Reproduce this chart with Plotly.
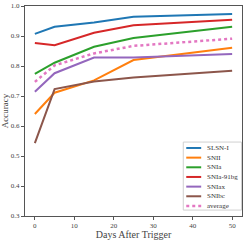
import plotly.graph_objects as go

days = [0, 5, 15, 25, 50]
series_names = ["SLSN-I", "SNII", "SNIa", "SNIa-91bg", "SNIax", "SNIbc", "average"]
slsn = [0.907, 0.931, 0.945, 0.964, 0.973]
snii = [0.640, 0.711, 0.752, 0.820, 0.861]
snia = [0.774, 0.811, 0.864, 0.893, 0.931]
snia91 = [0.877, 0.869, 0.911, 0.936, 0.954]
sniax = [0.714, 0.776, 0.828, 0.828, 0.840]
snibc = [0.543, 0.723, 0.748, 0.762, 0.784]
average = [0.747, 0.802, 0.842, 0.867, 0.891]

values = [slsn, snii, snia, snia91, sniax, snibc, average]
colors = ["#1f77b4", "#ff7f0e", "#2ca02c", "#d62728", "#9467bd", "#8c564b", "#e377c2"]
yticks = [0.3, 0.4, 0.5, 0.6, 0.7, 0.8, 0.9, 1.0]
xticks = [0, 10, 20, 30, 40, 50]

W, H = 245, 240
ML, MR, MT, MB = 25, 2, 5, 22
PW, PH = W - ML - MR, H - MT - MB

def px2paper(px, py):
    return (px - ML) / PW, (H - MB - py) / PH

font = "Liberation Serif"
fig = go.Figure()
for name, vals, c in zip(series_names, values, colors):
    dash = "dot" if name == "average" else "solid"
    fig.add_trace(go.Scatter(x=days, y=vals, mode="lines", name=name, showlegend=False,
                             hoverinfo="skip",
                             line=dict(color=c, width=2 if name != "average" else 2.5, dash=dash)))

# manual compact legend (matplotlib style)
shapes = []
annotations = []
bx0, by0 = px2paper(184, 212)
bx1, by1 = px2paper(242.5, 143)
shapes.append(dict(type="rect", xref="paper", yref="paper", x0=bx0, y0=by0, x1=bx1, y1=by1,
                   line=dict(color="#d0d0d0", width=1), fillcolor="rgba(255,255,255,0.85)", layer="above"))
for i, (name, c) in enumerate(zip(series_names, colors)):
    cy = 149 + i * 9.8
    lx0, ly = px2paper(187, cy)
    lx1, _ = px2paper(202, cy)
    shapes.append(dict(type="line", xref="paper", yref="paper", x0=lx0, x1=lx1, y0=ly, y1=ly,
                       line=dict(color=c, width=2 if name != "average" else 2.5,
                                 dash="dot" if name == "average" else "solid"), layer="above"))
    tx, _ = px2paper(206, cy)
    annotations.append(dict(xref="paper", yref="paper", x=tx, y=ly, text=name, showarrow=False,
                            xanchor="left", yanchor="middle",
                            font=dict(family=font, size=7, color="#333")))

axis_common = dict(showgrid=False, zeroline=False, showline=True, mirror=True,
                   linecolor="#555", linewidth=1, ticks="outside", ticklen=3,
                   tickcolor="#555", tickfont=dict(family=font, size=7, color="#444"))
fig.update_layout(
    width=W, height=H,
    margin=dict(l=ML, r=MR, t=MT, b=MB),
    paper_bgcolor="white", plot_bgcolor="white",
    font=dict(family=font, color="#444"),
    xaxis=dict(range=[-2.5, 52.5], tickvals=xticks,
               title=dict(text="Days After Trigger", font=dict(family=font, size=10), standoff=1),
               **axis_common),
    yaxis=dict(range=[0.3, 1.0], tickvals=yticks, tickformat=".1f",
               title=dict(text="Accuracy", font=dict(family=font, size=9), standoff=2),
               **axis_common),
    shapes=shapes,
    annotations=annotations,
    showlegend=False,
    hovermode=False,
)
fig.write_html("out.html", config={"displayModeBar": False, "staticPlot": True},
               post_script="document.body.style.margin='0';document.body.style.overflow='hidden';")
